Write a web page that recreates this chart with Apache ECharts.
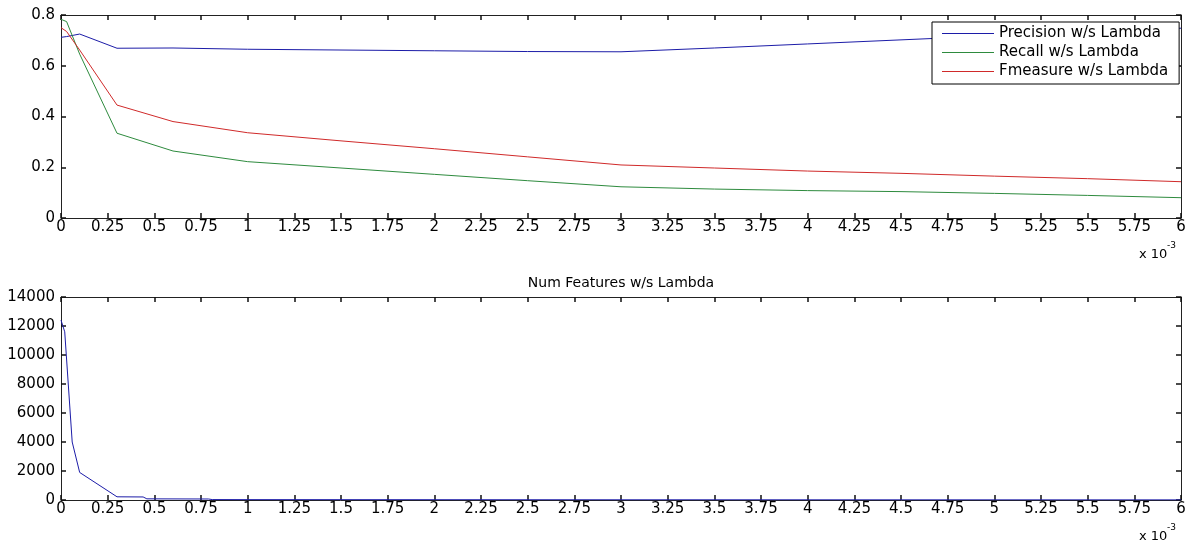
<!DOCTYPE html>
<html>
<head>
<meta charset="utf-8">
<script src="https://cdn.jsdelivr.net/npm/echarts@6/dist/echarts.min.js"></script>
<style>
html,body{margin:0;padding:0;background:#fff;}
#chart{width:1193px;height:550px;}
</style>
</head>
<body>
<div id="chart"></div>
<script>
// Lambda values in units of 1e-3 (axis shows "x 10^-3")
var lambdaTop = [0, 0.01, 0.03, 0.1, 0.3, 0.6, 1, 1.5, 2, 2.5, 3, 3.5, 4, 4.5, 5, 5.5, 6];
var precision = [0.712, 0.712, 0.715, 0.725, 0.669, 0.670, 0.665, 0.662, 0.659, 0.656, 0.655, 0.670, 0.686, 0.702, 0.718, 0.733, 0.748];
var recall    = [0.783, 0.781, 0.774, 0.646, 0.334, 0.264, 0.222, 0.197, 0.172, 0.147, 0.123, 0.114, 0.108, 0.104, 0.097, 0.089, 0.080];
var fmeasure  = [0.750, 0.745, 0.735, 0.662, 0.445, 0.380, 0.336, 0.304, 0.273, 0.241, 0.209, 0.197, 0.185, 0.176, 0.165, 0.155, 0.143];

var lambdaBottom = [0, 0.02, 0.06, 0.1, 0.3, 0.44, 0.46, 0.79, 0.81, 1, 2, 3, 4, 5, 6];
var numFeatures  = [12400, 11600, 4000, 1900, 220, 210, 80, 70, 30, 25, 20, 15, 12, 10, 8];

var seriesNames = ['Precision w/s Lambda', 'Recall w/s Lambda', 'Fmeasure w/s Lambda'];
var bottomTitle = 'Num Features w/s Lambda';

function pairs(xs, ys) { return xs.map(function (x, i) { return [x, ys[i]]; }); }

var FONT = 'DejaVu Sans';
var FS = 15;
var blue = '#1c1ca8', green = '#2e8b3e', red = '#d02a2a';
var seriesColors = [blue, green, red];

function fmt(v) { return String(Math.round(v * 100) / 100); }
function tick() { return { show: true, inside: true, length: 5, interval: 0, lineStyle: { color: '#111', width: 1.5 } }; }
function xAx(gi, pos, showLabel) {
  return { type: 'value', gridIndex: gi, position: pos, min: 0, max: 6, interval: 0.25,
    axisLine: { show: true, onZero: false, lineStyle: { color: '#222', width: 1 } },
    axisTick: tick(),
    axisLabel: { show: showLabel, margin: 2, color: '#000', fontFamily: FONT, fontSize: FS, formatter: fmt },
    splitLine: { show: false } };
}
function yAx(gi, pos, max, interval, showLabel) {
  return { type: 'value', gridIndex: gi, position: pos, min: 0, max: max, interval: interval,
    axisLine: { show: true, onZero: false, lineStyle: { color: '#222', width: 1 } },
    axisTick: tick(),
    axisLabel: { show: showLabel, margin: 6, color: '#000', fontFamily: FONT, fontSize: FS, formatter: fmt },
    splitLine: { show: false } };
}

var chart = echarts.init(document.getElementById('chart'));
chart.setOption({
  animation: false,
  backgroundColor: '#fff',
  color: [blue, green, red, blue],
  grid: [
    { left: 61, right: 12, top: 15, height: 203 },
    { left: 61, right: 12, top: 297, height: 203 }
  ],
  xAxis: [xAx(0, 'bottom', true), xAx(0, 'top', false), xAx(1, 'bottom', true), xAx(1, 'top', false)],
  yAxis: [yAx(0, 'left', 0.8, 0.2, true), yAx(0, 'right', 0.8, 0.2, false),
          yAx(1, 'left', 14000, 2000, true), yAx(1, 'right', 14000, 2000, false)],
  legend: {
    left: 932, top: 22, orient: 'vertical',
    data: seriesNames.map(function (n, i) {
      return { name: n, icon: 'rect', itemStyle: { color: seriesColors[i] } };
    }),
    itemWidth: 52, itemHeight: 1, itemGap: 4,
    padding: [4, 11, 5, 10],
    backgroundColor: '#fff', borderColor: '#000', borderWidth: 1, borderRadius: 0,
    textStyle: { color: '#000', fontFamily: FONT, fontSize: FS },
    selectedMode: false
  },
  graphic: [
    { type: 'text', x: 621, y: 283, style: { text: bottomTitle, fill: '#000', font: '14px "' + FONT + '"', textAlign: 'center', textVerticalAlign: 'middle' } },
    { type: 'text', x: 1139, y: 255, style: { text: 'x 10', fill: '#000', font: '13px "' + FONT + '"', textAlign: 'left', textVerticalAlign: 'middle' } },
    { type: 'text', x: 1167, y: 246, style: { text: '-3', fill: '#000', font: '9px "' + FONT + '"', textAlign: 'left', textVerticalAlign: 'middle' } },
    { type: 'text', x: 1139, y: 537, style: { text: 'x 10', fill: '#000', font: '13px "' + FONT + '"', textAlign: 'left', textVerticalAlign: 'middle' } },
    { type: 'text', x: 1167, y: 528, style: { text: '-3', fill: '#000', font: '9px "' + FONT + '"', textAlign: 'left', textVerticalAlign: 'middle' } }
  ],
  series: [
    { name: seriesNames[0], type: 'line', xAxisIndex: 0, yAxisIndex: 0, data: pairs(lambdaTop, precision),
      showSymbol: false, symbol: 'none', itemStyle: { color: blue }, lineStyle: { width: 1, color: blue } },
    { name: seriesNames[1], type: 'line', xAxisIndex: 0, yAxisIndex: 0, data: pairs(lambdaTop, recall),
      showSymbol: false, symbol: 'none', itemStyle: { color: green }, lineStyle: { width: 1, color: green } },
    { name: seriesNames[2], type: 'line', xAxisIndex: 0, yAxisIndex: 0, data: pairs(lambdaTop, fmeasure),
      showSymbol: false, symbol: 'none', itemStyle: { color: red }, lineStyle: { width: 1, color: red } },
    { name: bottomTitle, type: 'line', xAxisIndex: 2, yAxisIndex: 2, data: pairs(lambdaBottom, numFeatures),
      showSymbol: false, symbol: 'none', itemStyle: { color: blue }, lineStyle: { width: 1, color: blue } }
  ]
});
</script>
</body>
</html>
